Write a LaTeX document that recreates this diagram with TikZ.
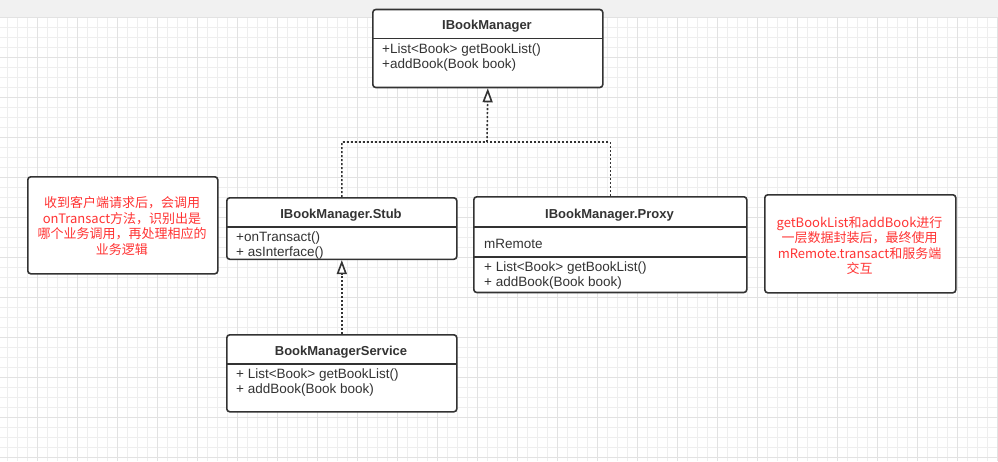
\documentclass[tikz,border=0pt]{standalone}
\usepackage{fontspec}
\setmainfont{Liberation Sans}
\newfontfamily\cjk{Noto Sans CJK SC}
\usetikzlibrary{arrows.meta}
\definecolor{linec}{HTML}{333333}
\definecolor{txtc}{HTML}{333333}
\definecolor{notec}{HTML}{FF3333}
\definecolor{gridmin}{HTML}{EEEEEE}
\definecolor{gridmaj}{HTML}{E2E2E2}
\definecolor{barc}{HTML}{F1F1F1}
\tikzset{
  box/.style={draw=linec, line width=1.6pt, rounded corners=3pt, fill=white, inner sep=0pt, anchor=north west},
  sepline/.style={draw=linec, line width=1.4pt},
  ttl/.style={font=\fontsize{13}{15}\selectfont\bfseries, text=txtc, inner sep=0pt, text height=10pt, text depth=3pt},
  mem/.style={font=\fontsize{13.5}{15}\selectfont, text=txtc, inner sep=0pt, anchor=west, text height=10pt, text depth=3pt},
  notetxt/.style={font=\cjk\fontsize{13}{15.4}\selectfont, text=notec, align=center, inner sep=0pt},
  depline/.style={draw=linec, line width=1.6pt, dash pattern=on 2pt off 2pt},
  dep/.style={depline, -{Triangle[fill=white, length=14pt, width=10pt, line width=1.6pt]}},
  gmin/.style={draw=gridmin, line width=1pt},
  gmaj/.style={draw=gridmaj, line width=1pt},
}
\begin{document}
\begin{tikzpicture}[x=1pt, y=-1pt]
\useasboundingbox (0,0) rectangle (998,461);
\fill[white] (0,0) rectangle (998,461);
\fill[barc] (0,0) rectangle (998,17);
% grid
\foreach \x in {7.5,17.5,...,997.5} \draw[gmin] (\x,17) -- (\x,461);
\foreach \y in {27.5,37.5,...,457.5} \draw[gmin] (0,\y) -- (998,\y);
\foreach \x in {37.5,77.5,...,997.5} \draw[gmaj] (\x,17) -- (\x,461);
\foreach \y in {17.5,57.5,...,457.5} \draw[gmaj] (0,\y) -- (998,\y);

% IBookManager
\node[box, minimum width=230pt, minimum height=78pt] (ibm) at (372,8.7) {};
\draw[sepline] (372,38.7) -- (602,38.7);
\node[ttl] (ibmt) at (487,25.5) {IBookManager};
\node[mem] (ibm1) at (382,49.5) {+List<Book> getBookList()};
\node[mem] (ibm2) at (382,65) {+addBook(Book book)};

% Stub
\node[box, minimum width=230pt, minimum height=61.5pt] (stub) at (226,197) {};
\draw[sepline] (226,227) -- (456,227);
\node[ttl] (stubt) at (341,214.5) {IBookManager.Stub};
\node[mem] (stub1) at (236,237.5) {+onTransact()};
\node[mem] (stub2) at (236,252.5) {+ asInterface()};

% Proxy
\node[box, minimum width=273pt, minimum height=95.7pt] (proxy) at (473,196) {};
\draw[sepline] (473,227) -- (746,227);
\draw[sepline] (473,257) -- (746,257);
\node[ttl] (proxyt) at (609.5,214.5) {IBookManager.Proxy};
\node[mem] (proxy0) at (484,244.5) {mRemote};
\node[mem] (proxy1) at (484,267.5) {+ List<Book> getBookList()};
\node[mem] (proxy2) at (484,283) {+ addBook(Book book)};

% BookManagerService
\node[box, minimum width=230pt, minimum height=77pt] (bms) at (226,334) {};
\draw[sepline] (226,364) -- (456,364);
\node[ttl] (bmst) at (341,351.5) {BookManagerService};
\node[mem] (bms1) at (236,374.5) {+ List<Book> getBookList()};
\node[mem] (bms2) at (236,390) {+ addBook(Book book)};

% notes
\node[box, minimum width=190pt, minimum height=97pt] (note1) at (27,176) {};
\node[notetxt] (note1t) at (122,226) {收到客户端请求后，会调用\\onTransact方法，识别出是\\哪个业务调用，再处理相应的\\业务逻辑};
\node[box, minimum width=191pt, minimum height=98pt] (note2) at (764,194) {};
\node[notetxt] (note2t) at (859.5,245.5) {getBookList和addBook进行\\一层数据封装后，最终使用\\mRemote.transact和服务端\\交互};

% connectors
\coordinate (j) at (487,142);
\draw[depline] (proxy.north) |- (j);
\draw[dep] (stub.north) |- (j) -- (ibm.south);
\draw[dep] (bms.north) -- (stub.south);
\end{tikzpicture}
\end{document}
